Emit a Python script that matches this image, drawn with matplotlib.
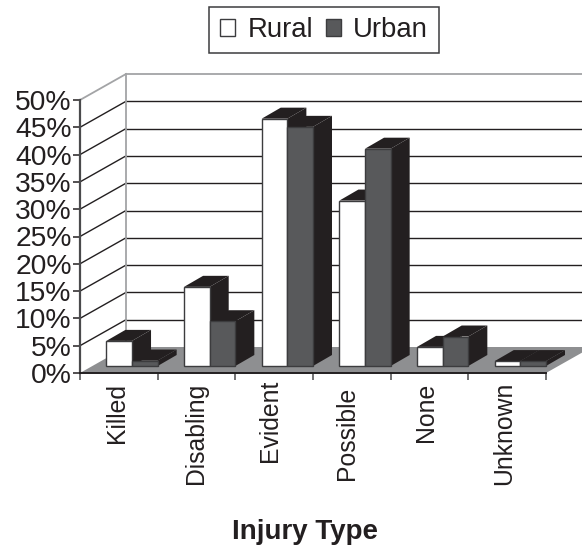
import matplotlib
matplotlib.use("Agg")
import matplotlib.pyplot as plt
from matplotlib.patches import Polygon, Rectangle, Patch
from matplotlib.transforms import ScaledTranslation

categories = ["Killed", "Disabling", "Evident", "Possible", "None", "Unknown"]
rural = [4.6, 14.5, 45.3, 30.3, 3.5, 0.9]
urban = [1.0, 8.2, 43.8, 39.8, 5.4, 0.9]
y_ticks = list(range(0, 51, 5))

W, H = 582, 549
DARK = "#231f20"
URBAN = "#58595b"
FLOOR = "#8e8f91"
WALL = "#a3a4a6"
AXIS = "#4a4a4c"

plt.rcParams["font.family"] = ["Liberation Sans", "DejaVu Sans"]
fig = plt.figure(figsize=(W / 100, H / 100), dpi=100)
ax = fig.add_axes([80 / W, 1 - 373 / H, 466 / W, 273 / H])
ax.set_xlim(0, 6)
ax.set_ylim(0, 50)
ax.patch.set_visible(False)

# oblique depth, expressed in data units
wall_dx, wall_dy = 46 / 77.67, 26 / 5.46
base_dy = 7 / 5.46
bar_dx, bar_dy = 19 / 77.67, 11 / 5.46
bar_left = 0.34
bar_w = 0.33


def poly(pts, fc, ec="none", lw=0, z=1):
    ax.add_patch(Polygon(pts, closed=True, fc=fc, ec=ec, lw=lw, zorder=z,
                         clip_on=False, joinstyle="miter"))


# floor
poly([(0, 0), (6, 0), (6 + wall_dx, wall_dy), (wall_dx, wall_dy)], FLOOR, z=1)

# walls and gridlines
for v in y_ticks:
    col = WALL if v == 50 else DARK
    lw = 1.3 if v == 50 else 1.0
    if v > 0:
        ax.plot([0, wall_dx], [v, v + wall_dy], color=col, lw=lw, clip_on=False, zorder=2)
        ax.plot([wall_dx, 6 + wall_dx], [v + wall_dy, v + wall_dy], color=col, lw=lw,
                clip_on=False, zorder=2)
ax.plot([wall_dx, wall_dx], [wall_dy, 50 + wall_dy], color=WALL, lw=1.3, clip_on=False, zorder=2)


def bar3d(x, w, v, face, z):
    b = base_dy
    t = v + base_dy
    poly([(x, t), (x + w, t), (x + w + bar_dx, t + bar_dy), (x + bar_dx, t + bar_dy)], DARK, z=z)
    poly([(x + w, b), (x + w + bar_dx, b + bar_dy), (x + w + bar_dx, t + bar_dy), (x + w, t)], DARK, z=z)
    ax.add_patch(Rectangle((x, b), w, v, fc=face, ec="#3c3c3e", lw=1.0, zorder=z + 0.1, clip_on=False))


for i in range(len(categories)):
    bar3d(i + bar_left, bar_w, rural[i], "white", 3 + i * 2)
    bar3d(i + bar_left + bar_w, bar_w, urban[i], URBAN, 4 + i * 2)

# axes
for s in ["top", "right"]:
    ax.spines[s].set_visible(False)
ax.spines["left"].set_color(AXIS)
ax.spines["left"].set_linewidth(1.6)
ax.spines["bottom"].set_color(DARK)
ax.spines["bottom"].set_linewidth(1.4)
ax.spines["left"].set_zorder(30)
ax.spines["bottom"].set_zorder(30)

ax.set_yticks(y_ticks)
ax.set_yticklabels([f"{v}%" for v in y_ticks], fontsize=20.3, color=DARK)
ax.tick_params(axis="y", length=5, width=1.1, color=DARK, pad=1)

ax.set_xticks(range(7))
ax.set_xticklabels([])
ax.set_xticks([i + 0.5 for i in range(6)], minor=True)
ax.set_xticklabels(categories, minor=True, rotation=90, fontsize=17.8, color=DARK)
ax.tick_params(axis="x", which="major", length=5, width=1.1, color=AXIS)
ax.tick_params(axis="x", which="minor", length=0, pad=7)
shifts = [(-2, 0), (-1, 0), (-4, 3), (-5, -4), (-3, 0), (-3, 1)]
for lab, (dx, dy) in zip(ax.get_xticklabels(minor=True), shifts):
    lab.set_transform(lab.get_transform() + ScaledTranslation(dx / 100, dy / 100, fig.dpi_scale_trans))

ax.set_xlabel("Injury Type", fontsize=20, fontweight="bold", color=DARK)
ax.xaxis.set_label_coords((305 - 80) / 466, -(532 - 373) / 273)
ax.xaxis.label.set_va("center")

handles = [Patch(fc="white", ec="#3c3c3e", lw=1.0, label="Rural"),
           Patch(fc=URBAN, ec="#3c3c3e", lw=1.0, label="Urban")]
leg = fig.legend(handles=handles, ncols=2, loc="center",
                 bbox_to_anchor=(324 / W, 1 - 30 / H), fontsize=19.8,
                 labelcolor=DARK, fancybox=False, edgecolor="#3c3c3e", framealpha=1,
                 handlelength=0.56, handleheight=0.56, handletextpad=0.44,
                 columnspacing=0.46, borderpad=0.38, borderaxespad=0)
leg.get_frame().set_linewidth(1.1)

fig.savefig("out.png", dpi=100)
